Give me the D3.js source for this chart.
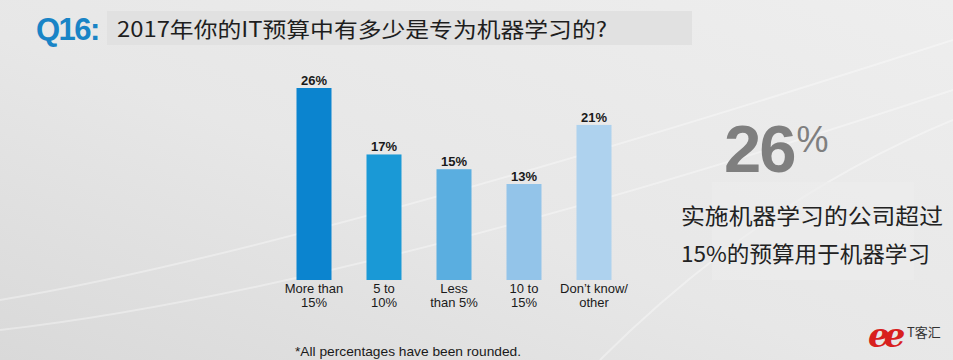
<!DOCTYPE html>
<html><head><meta charset="utf-8">
<script src="https://cdn.jsdelivr.net/npm/d3@7"></script>
<style>html,body{margin:0;padding:0;overflow:hidden;background:#e6e6e6}</style>
</head><body>
<script>
const categories = ["More than 15%", "5 to 10%", "Less than 5%", "10 to 15%", "Don't know/ other"];
const categoryLines = [["More than","15%"],["5 to","10%"],["Less","than 5%"],["10 to","15%"],["Don’t know/","other"]];
const values = [26, 17, 15, 13, 21];
const valueLabels = ["26%", "17%", "15%", "13%", "21%"];
const barColors = ["#0b84cf", "#1a99d6", "#5aaee0", "#93c4e9", "#aed2ee"];
const titleQ = "Q16:";
const titleText = "2017年你的IT预算中有多少是专为机器学习的?";
const bigStat = "26";
const calloutLines = ["实施机器学习的公司超过", "15%的预算用于机器学习"];
const footnote = "*All percentages have been rounded.";

const W = 953, H = 360;
const svg = d3.select("body").append("svg").attr("width", W).attr("height", H);
const defs = svg.append("defs");
const bg = defs.append("linearGradient").attr("id","bg").attr("x1","0").attr("y1","1").attr("x2","1").attr("y2","0");
bg.append("stop").attr("offset","0").attr("stop-color","#d9d9d9");
bg.append("stop").attr("offset","0.45").attr("stop-color","#e7e7e7");
bg.append("stop").attr("offset","1").attr("stop-color","#eeeeee");
svg.append("rect").attr("width",W).attr("height",H).attr("fill","url(#bg)");
[[0,300,300,250,953,40],[0,330,350,290,953,90],[600,360,760,200,953,120]].forEach(s=>{
  svg.append("path").attr("d",`M${s[0]},${s[1]} Q${s[2]},${s[3]} ${s[4]},${s[5]}`)
    .attr("fill","none").attr("stroke","#ffffff").attr("stroke-opacity",0.35).attr("stroke-width",2);
});

// title
svg.append("rect").attr("x",107).attr("y",11).attr("width",585).attr("height",34).attr("fill","#e1e1e1");
svg.append("text").attr("x",36).attr("y",40).text(titleQ)
  .attr("font-family","Liberation Sans, Arial, sans-serif").attr("font-weight","bold")
  .attr("font-size",31).attr("letter-spacing",-1.5).attr("fill","#1984c6");
svg.append("text").attr("x",117).attr("y",37).text(titleText)
  .attr("font-family","Noto Sans CJK SC, sans-serif").attr("font-size",21)
  .attr("textLength",490).attr("lengthAdjust","spacingAndGlyphs").attr("fill","#1e1e1e");

// chart
const x = d3.scaleBand().domain(categories).range([279, 629]).paddingInner(0.5).paddingOuter(0.25);
const y = d3.scaleLinear().domain([0, 26]).range([280, 88]);

const g = svg.append("g");
g.selectAll("rect.bar").data(values).join("rect").attr("class","bar")
  .attr("x",(d,i)=>x(categories[i])).attr("y",d=>y(d))
  .attr("width",x.bandwidth()).attr("height",d=>y(0)-y(d))
  .attr("fill",(d,i)=>barColors[i]);
g.selectAll("text.val").data(values).join("text").attr("class","val")
  .attr("x",(d,i)=>x(categories[i])+x.bandwidth()/2).attr("y",d=>y(d)-3)
  .attr("text-anchor","middle").attr("font-family","Liberation Sans, Arial, sans-serif")
  .attr("font-weight","bold").attr("font-size",13).attr("fill","#1a1a1a")
  .text((d,i)=>valueLabels[i]);
const lab = g.selectAll("text.cat").data(categories).join("text").attr("class","cat")
  .attr("x",(d)=>x(d)+x.bandwidth()/2).attr("y",293)
  .attr("text-anchor","middle").attr("font-family","Liberation Sans, Arial, sans-serif")
  .attr("font-size",13).attr("fill","#1a1a1a");
lab.each(function(d,i){
  const t = d3.select(this);
  categoryLines[i].forEach((ln,k)=>{
    t.append("tspan").attr("x",x(d)+x.bandwidth()/2).attr("dy",k===0?0:14).text(ln);
  });
});

// callout
svg.append("rect").attr("x",712).attr("y",182).attr("width",202).attr("height",98).attr("fill","#ededed").attr("opacity",0.6);
const big = svg.append("text").attr("x",724).attr("y",172)
  .attr("font-family","Liberation Sans, Arial, sans-serif").attr("fill","#7f7f7f");
big.append("tspan").attr("font-weight","bold").attr("font-size",67).attr("letter-spacing",-2).text(bigStat);
big.append("tspan").attr("font-size",36).attr("dy",-20).attr("dx",2).text("%");
calloutLines.forEach((ln,i)=>{
  svg.append("text").attr("x",681).attr("y",224+i*38).text(ln)
    .attr("font-family","Noto Sans CJK SC, sans-serif").attr("font-size",22)
    .attr("textLength", i===0?262:249).attr("lengthAdjust","spacingAndGlyphs")
    .attr("fill","#222");
});

// footnote
svg.append("text").attr("x",295).attr("y",356).text(footnote)
  .attr("font-family","Liberation Sans, Arial, sans-serif").attr("font-size",13)
  .attr("textLength",226).attr("lengthAdjust","spacingAndGlyphs").attr("fill","#1a1a1a");

// logo
svg.append("text").attr("x",868).attr("y",347).text("ee")
  .attr("font-family","DejaVu Serif, serif").attr("font-style","italic").attr("font-weight","bold")
  .attr("font-size",34).attr("letter-spacing",-6).attr("fill","#d8201e");
svg.append("text").attr("x",907).attr("y",337).text("T客汇")
  .attr("font-family","Noto Sans CJK SC, sans-serif").attr("font-size",13).attr("fill","#333");
</script>
</body></html>
